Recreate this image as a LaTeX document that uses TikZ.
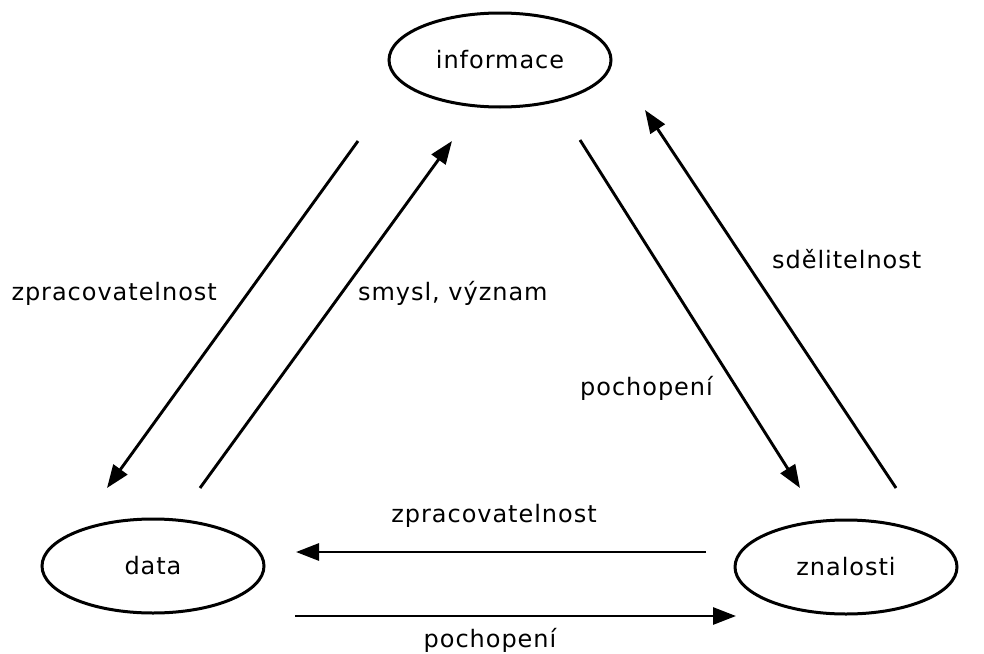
\documentclass[tikz,border=0pt]{standalone}
\usepackage{fontspec}
\setmainfont[LetterSpace=4]{DejaVu Sans}
\usetikzlibrary{shapes.geometric,arrows.meta}
\begin{document}
\begin{tikzpicture}[x=1pt,y=-1pt,
  concept/.style={draw,ellipse,line width=3pt,minimum width=222pt,minimum height=94pt,inner sep=0pt,font=\fontsize{24}{28}\selectfont},
  lbl/.style={font=\fontsize{24}{28}\selectfont,inner sep=0pt},
  flow/.style={line width=2.9pt,-{Triangle[length=23pt,width=17pt]}}]
\useasboundingbox (0,0) rectangle (984,653);
\node[concept] (inf) at (500,60) {informace};
\node[concept] (dat) at (153,566) {data};
\node[concept] (zna) at (846,567) {znalosti};
% arrow end points
\coordinate (a1s) at (358,141); \coordinate (a1e) at (107,488);
\coordinate (a2s) at (200,488); \coordinate (a2e) at (452,141);
\coordinate (a3s) at (580,140); \coordinate (a3e) at (800,488);
\coordinate (a4s) at (896,488); \coordinate (a4e) at (645,110);
\coordinate (a5s) at (706,552); \coordinate (a5e) at (296,552);
\coordinate (a6s) at (295,616); \coordinate (a6e) at (736,616);
\draw[flow] (a1s) -- (a1e);
\draw[flow] (a2s) -- (a2e);
\draw[flow] (a3s) -- (a3e);
\draw[flow] (a4s) -- (a4e);
\draw[flow] (a5s) -- (a5e);
\draw[flow] (a6s) -- (a6e);
\node[lbl,anchor=base east] (l1) at (217,300) {zpracovatelnost};
\node[lbl,anchor=base west] (l2) at (358,300) {smysl, význam};
\node[lbl,anchor=base west] (l3) at (580,395) {pochopení};
\node[lbl,anchor=base west] (l4) at (772,268) {sdělitelnost};
\node[lbl,anchor=base] (l5) at (494,522) {zpracovatelnost};
\node[lbl,anchor=base] (l6) at (490,647) {pochopení};
\end{tikzpicture}
\end{document}
